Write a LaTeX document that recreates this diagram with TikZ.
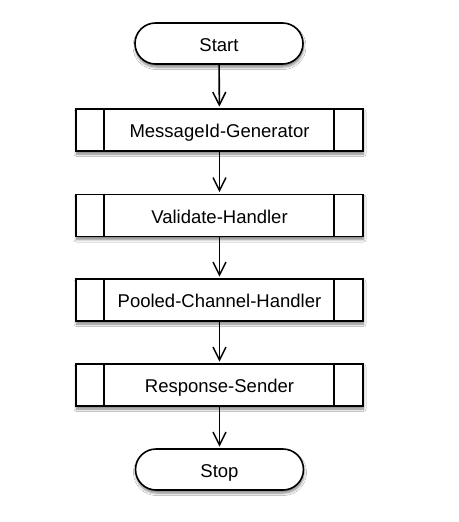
\documentclass[tikz,border=0pt]{standalone}
\usepackage{fontspec}
\setmainfont{Liberation Sans}
\usetikzlibrary{arrows.meta,shadows.blur}
\begin{document}
\begin{tikzpicture}[x=1pt,y=-1pt,
  shade/.style={blur shadow={shadow xshift=0.5pt,shadow yshift=-3pt,shadow opacity=50,shadow blur steps=6,shadow blur radius=2.5pt}},
  txt/.style={font=\fontsize{18.5}{20}\selectfont,text height=15.8pt,text depth=0pt,inner sep=0pt},
  term/.style={draw,line width=1.6pt,fill=white,shade,minimum width=168pt,minimum height=41pt,rounded corners=20.5pt,txt},
  proc/.style={draw,line width=1.6pt,fill=white,shade,minimum width=287pt,minimum height=42pt,txt},
  conn/.style={line width=1.6pt,-{Straight Barb[length=13pt,width=13pt,line width=1.5pt]},shorten >=1.5pt}]
\useasboundingbox[fill=white] (0,0) rectangle (458,522);
\node[term] (start) at (219,43.5) {Start};
\node[proc] (p1) at (219.5,130) {MessageId-Generator};
\node[proc] (p2) at (219.5,215.5) {Validate-Handler};
\node[proc] (p3) at (219.5,300) {Pooled-Channel-Handler};
\node[proc] (p4) at (219.5,385) {Response-Sender};
\node[term] (stop) at (219.5,469.5) {Stop};
\foreach \n in {p1,p2,p3,p4}{
  \draw[line width=1.6pt] ([xshift=28.5pt]\n.north west) -- ([xshift=28.5pt]\n.south west);
  \draw[line width=1.6pt] ([xshift=-30pt]\n.north east) -- ([xshift=-30pt]\n.south east);
}
\draw[conn] (start) -- (p1);
\draw[conn] (p1) -- (p2);
\draw[conn] (p2) -- (p3);
\draw[conn] (p3) -- (p4);
\draw[conn] (p4) -- (stop);
\end{tikzpicture}
\end{document}
